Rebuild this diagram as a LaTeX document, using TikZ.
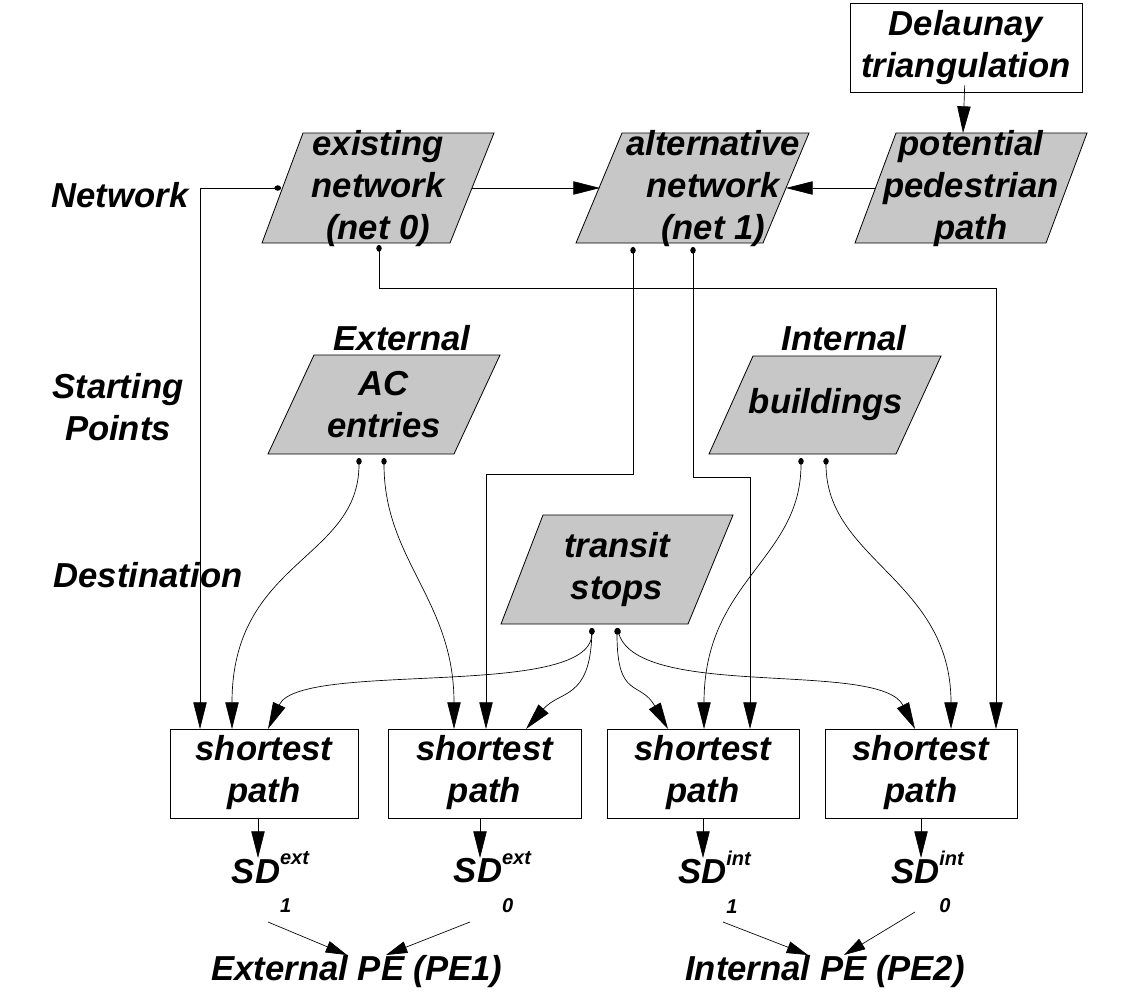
\documentclass[tikz,border=0pt]{standalone}
\usepackage{fontspec}
\setmainfont{Liberation Sans}
\usetikzlibrary{arrows.meta}
\begin{document}
\begin{tikzpicture}[x=0.75pt,y=-0.75pt,
  txt/.style={font=\fontsize{26}{31.5}\selectfont\bfseries\itshape,align=center,inner sep=0pt},
  par/.style={fill=black!22,draw=black,line width=0.6pt},
  box/.style={draw=black,line width=0.6pt,fill=white},
  con/.style={line width=0.5pt,{Circle[length=5pt,width=4pt]}-{Triangle[length=20pt,width=10pt]}},
  arr/.style={line width=0.5pt,-{Triangle[length=20pt,width=10pt]}},
  sarr/.style={line width=0.5pt,-{Triangle[length=16pt,width=9pt]}},
  sm/.style={font=\fontsize{15}{15}\selectfont\bfseries\itshape}]
\useasboundingbox (0,0) rectangle (1141,999);
% boxes
\draw[box] (850,3) rectangle (1082,92);
\node[txt] (del) at (966,48) {Delaunay\\triangulation};
\draw[par] (303,133) -- (494,133) -- (450,243) -- (262,243) -- cycle;
\node[txt] (ex) at (378,189) {existing\\network\\(net 0)};
\draw[par] (622,133) -- (809,133) -- (763,243) -- (576,243) -- cycle;
\node[txt] (al) at (713,189) {alternative\\network\\(net 1)};
\draw[par] (896,133) -- (1087,133) -- (1046,243) -- (855,243) -- cycle;
\node[txt] (po) at (971,189) {potential\\pedestrian\\path};
\draw[par] (314,355) -- (500,355) -- (454,454) -- (268,454) -- cycle;
\node[txt] (ac) at (384,405) {AC\\entries};
\node[txt] (extl) at (402,338) {External};
\draw[par] (753,356) -- (941,356) -- (896,454) -- (709,454) -- cycle;
\node[txt] (bu) at (826,405) {buildings};
\node[txt] (intl) at (844,338) {Internal};
\draw[par] (543,515) -- (733,515) -- (688,624) -- (501,624) -- cycle;
\node[txt] (ts) at (617,570) {transit\\stops};
\node[txt] (lnet) at (120,195) {Network};
\node[txt] (lsp) at (118,407) {Starting\\Points};
\node[txt] (ldest) at (148,575) {Destination};
\foreach \i/\a/\b in {1/170/358,2/388/581,3/607/799,4/825/1017}{
  \draw[box] (\a,729) rectangle (\b,818);
  \node[txt] (sp\i) at ({(\a+\b)/2},773) {shortest\\path};
}
% SD labels
\newcommand{\sdl}[2]{SD\makebox[0pt][l]{\raisebox{1.0ex}{\sm #2}}\raisebox{-1.6ex}{\sm #1}\phantom{\sm #2}}
\tikzset{sdt/.style={font=\fontsize{26}{31.5}\selectfont\bfseries\itshape,inner sep=0pt}}
\def\sm{\fontsize{15}{15}\selectfont}
\node[sdt] (sd1) at (276,882) {\sdl{1}{ext}};
\node[sdt] (sd2) at (498,882) {\sdl{0}{ext}};
\node[sdt] (sd3) at (720,882) {\sdl{1}{int}};
\node[sdt] (sd4) at (933,882) {\sdl{0}{int}};
\node[txt] (pe1) at (357,972) {External PE (PE1)};
\node[txt] (pe2) at (825,972) {Internal PE (PE2)};
% coordinates
\coordinate (exL) at (281,188);
\coordinate (exR) at (472,188);
\coordinate (exB) at (379,245);
\coordinate (alL) at (600,188);
\coordinate (alR) at (786,188);
\coordinate (alB1) at (633,247);
\coordinate (alB2) at (693,247);
\coordinate (poL) at (875,188);
\coordinate (ac1) at (359,458);
\coordinate (ac2) at (384,458);
\coordinate (bu1) at (801,458);
\coordinate (bu2) at (826,458);
\coordinate (ts1) at (592,628);
\coordinate (ts2) at (617,628);
% connectors
\draw[arr] (del) -- (963,133);
\draw[arr] (exR) -- (alL);
\draw[arr] (poL) -- (alR);
\draw[con] (exL) -- (200,188) -- (200,729);
\draw[con] (exB) -- (379,288) -- (996,288) -- (996,729);
\draw[con] (alB1) -- (633,474) -- (486,474) -- (486,729);
\draw[con] (alB2) -- (693,477) -- (750,477) -- (750,729);
\draw[con] (ac1) .. controls (359,560) and (232,560) .. (232,729);
\draw[con] (ac2) .. controls (384,560) and (454,600) .. (454,729);
\draw[con] (bu1) .. controls (801,560) and (704,580) .. (704,729);
\draw[con] (bu2) .. controls (826,560) and (951,580) .. (951,729);
\draw[con] (ts1) .. controls (590,700) and (300,660) .. (268,729);
\draw[con] (ts1) .. controls (590,700) and (560,690) .. (526,729);
\draw[con] (ts2) .. controls (617,700) and (640,680) .. (668,729);
\draw[con] (ts2) .. controls (640,700) and (880,660) .. (915,729);
\draw[arr] (258,818) -- (258,858);
\draw[arr] (480,818) -- (480,858);
\draw[arr] (703,818) -- (703,858);
\draw[arr] (921,818) -- (921,858);
\draw[sarr] (268,922) -- (347,955);
\draw[sarr] (470,922) -- (386,955);
\draw[sarr] (723,922) -- (808,955);
\draw[sarr] (915,912) -- (844,955);
\end{tikzpicture}
\end{document}
